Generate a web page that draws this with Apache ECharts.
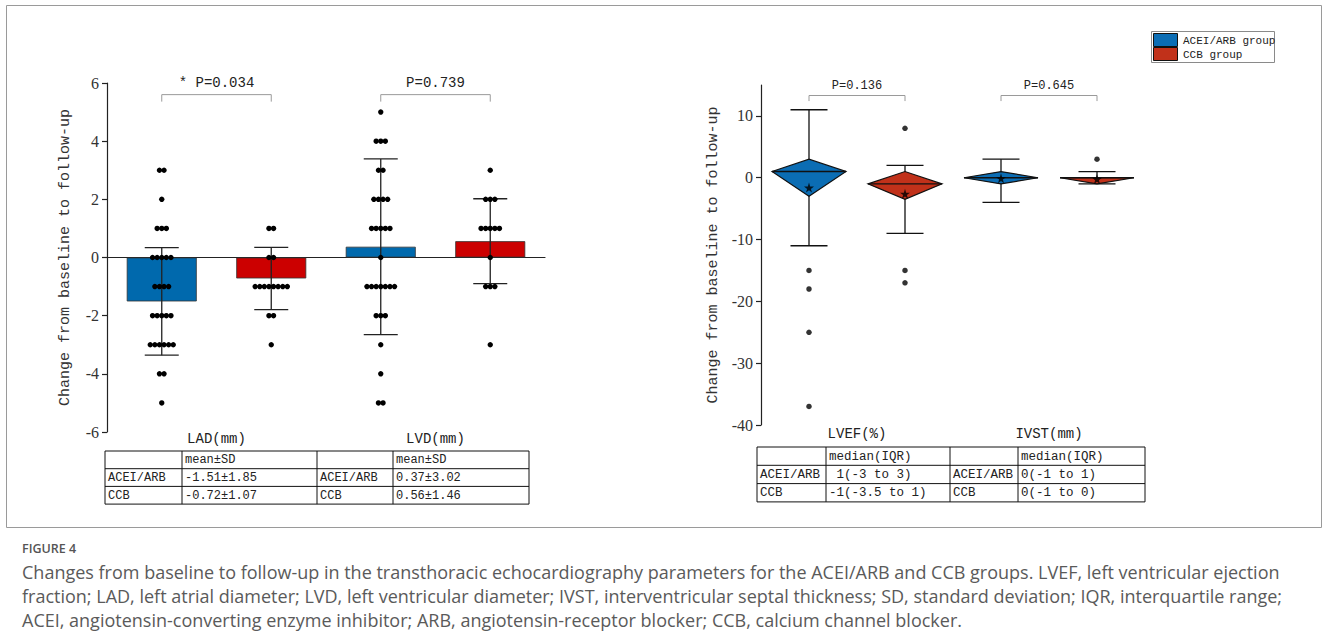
<!DOCTYPE html>
<html><head><meta charset="utf-8">
<script src="https://cdn.jsdelivr.net/npm/echarts@6/dist/echarts.min.js"></script>
<style>html,body{margin:0;padding:0;background:#fff}#c{width:1328px;height:641px}</style>
</head><body><div id="c"></div>
<script>
// ---------- data ----------
const barCategories = ['LAD ACEI/ARB', 'LAD CCB', 'LVD ACEI/ARB', 'LVD CCB'];
const barGroupLabels = ['LAD(mm)', 'LVD(mm)'];
const barMeans = [-1.51, -0.72, 0.37, 0.56];
const barSDs = [1.85, 1.07, 3.02, 1.46];
const ladAceiDots = [3, 3, 2, 1, 1, 1, 0, 0, 0, 0, 0, -1, -1, -1, -1, -2, -2, -2, -2, -2, -3, -3, -3, -3, -3, -3, -4, -4, -5];
const ladCcbDots = [1, 1, 0, 0, -1, -1, -1, -1, -1, -1, -1, -1, -2, -2, -3];
const lvdAceiDots = [5, 4, 4, 4, 3, 3, 2, 2, 2, 2, 1, 1, 1, 1, 1, 0, -1, -1, -1, -1, -1, -1, -1, -2, -2, -2, -3, -4, -5, -5];
const lvdCcbDots = [3, 2, 2, 2, 1, 1, 1, 1, 1, 0, -1, -1, -1, -3];
const leftPairs = [[0, 1], [2, 3]];
const leftPvals = ['* P=0.034', 'P=0.739'];

const boxCategories = ['LVEF ACEI/ARB', 'LVEF CCB', 'IVST ACEI/ARB', 'IVST CCB'];
const boxGroupLabels = ['LVEF(%)', 'IVST(mm)'];
// [min whisker, Q1, median, Q3, max whisker]
const boxStats = [
  [-11, -3, 1, 3, 11],
  [-9, -3.5, -1, 1, 2],
  [-4, -1, 0, 1, 3],
  [-1, -1, 0, 0, 1]
];
const boxMeans = [-1.6, -2.6, -0.1, -0.2];
const boxOutliers = [[-15, -18, -25, -37], [8, -15, -17], [], [3]];
const rightTicks = [-40, -30, -20, -10, 0, 10];
const rightPairs = [[0, 1], [2, 3]];
const rightPvals = ['P=0.136', 'P=0.645'];

const legendNames = ['ACEI/ARB group', 'CCB group'];
const leftTableRows = [
  ['', 'mean±SD', '', 'mean±SD'],
  ['ACEI/ARB', '-1.51±1.85', 'ACEI/ARB', '0.37±3.02'],
  ['CCB', '-0.72±1.07', 'CCB', '0.56±1.46']
];
const rightTableRows = [
  ['', 'median(IQR)', '', 'median(IQR)'],
  ['ACEI/ARB', ' 1(-3 to 3)', 'ACEI/ARB', '0(-1 to 1)'],
  ['CCB', '-1(-3.5 to 1)', 'CCB', '0(-1 to 0)']
];
const yTitle = 'Change from baseline to follow-up';
const figLabel = 'FIGURE 4';
const captionLines = [
  'Changes from baseline to follow-up in the transthoracic echocardiography parameters for the ACEI/ARB and CCB groups. LVEF, left ventricular ejection',
  'fraction; LAD, left atrial diameter; LVD, left ventricular diameter; IVST, interventricular septal thickness; SD, standard deviation; IQR, interquartile range;',
  'ACEI, angiotensin-converting enzyme inhibitor; ARB, angiotensin-receptor blocker; CCB, calcium channel blocker.'
];

// ---------- styles ----------
const BLUE_BAR = '#0069ad', RED_BAR = '#cc0000';
const BLUE_D = '#0b6db4', RED_D = '#c1311a';
const MONO = "'Liberation Mono', 'DejaVu Sans Mono', monospace";
const SERIF = "'Liberation Serif', 'DejaVu Serif', serif";
const SANS = "'Open Sans', 'Noto Sans', sans-serif";
const INK = '#222';

function swarm(vals, spacing) {
  const counts = {}, seen = {};
  vals.forEach(v => counts[v] = (counts[v] || 0) + 1);
  return vals.map(v => {
    const k = seen[v] || 0; seen[v] = k + 1;
    return (k - (counts[v] - 1) / 2) * spacing;
  });
}
const dotGroups = [ladAceiDots, ladCcbDots, lvdAceiDots, lvdCcbDots];
const dotData = [];
dotGroups.forEach((g, i) => {
  const offs = swarm(g, 4.6);
  g.forEach((v, j) => dotData.push([i, v, offs[j]]));
});
const errData = barMeans.map((m, i) => [i, +(m - barSDs[i]).toFixed(2), +(m + barSDs[i]).toFixed(2)]);
const outlierData = [];
boxOutliers.forEach((arr, i) => arr.forEach(v => outlierData.push([i, v])));

function bracketItem(api, params, labels, yTop, yLeg, yText, fontSize) {
  const a = api.value(0), b = api.value(1);
  const p0 = api.coord([a, yTop]), p1 = api.coord([b, yTop]);
  const l0 = api.coord([a, yLeg]);
  const t = api.coord([(a + b) / 2, yText]);
  return {
    type: 'group', children: [
      { type: 'polyline', shape: { points: [[p0[0], l0[1]], [p0[0], p0[1]], [p1[0], p1[1]], [p1[0], l0[1]]] },
        style: { stroke: '#9a9a9a', lineWidth: 1, fill: null } },
      { type: 'text', style: { text: labels[params.dataIndex], x: (p0[0] + p1[0]) / 2, y: t[1], align: 'center', verticalAlign: 'middle',
        fontFamily: MONO, fontSize: fontSize, fill: INK } }
    ]
  };
}

const starPath = 'path://M50,0 L61,35 L98,35 L68,57 L79,91 L50,70 L21,91 L32,57 L2,35 L39,35 Z';

// ---------- graphic (tables, legend, caption, frame) ----------
function table(x0, y0, colEdges, rowH, rows, fontSize) {
  const els = [];
  const x1 = colEdges[colEdges.length - 1];
  const h = rowH * rows.length;
  els.push({ type: 'rect', shape: { x: x0, y: y0, width: x1 - x0, height: h }, style: { fill: '#fff', stroke: '#111', lineWidth: 1 } });
  for (let r = 1; r < rows.length; r++) {
    els.push({ type: 'line', shape: { x1: x0, y1: y0 + r * rowH, x2: x1, y2: y0 + r * rowH }, style: { stroke: '#111', lineWidth: 1 } });
  }
  const edges = [x0].concat(colEdges);
  for (let c = 1; c < edges.length - 1; c++) {
    els.push({ type: 'line', shape: { x1: edges[c], y1: y0, x2: edges[c], y2: y0 + h }, style: { stroke: '#111', lineWidth: 1 } });
  }
  rows.forEach((row, r) => row.forEach((txt, c) => {
    if (!txt) return;
    els.push({ type: 'text', style: { text: txt, x: edges[c] + 3, y: y0 + r * rowH + rowH / 2 + 0.5, verticalAlign: 'middle',
      fontFamily: MONO, fontSize: fontSize, fill: INK } });
  }));
  return els;
}

const mctx = document.createElement('canvas').getContext('2d');
mctx.font = "16px 'Open Sans'";
const capW = mctx.measureText(captionLines[0]).width;
const capSize = Math.min(18, 16 * 1284 / capW);

const graphics = [].concat(
  [{ type: 'rect', shape: { x: 6.5, y: 5.5, width: 1315, height: 522 }, style: { fill: null, stroke: '#9a9a9a', lineWidth: 1 }, z: -10 }],
  table(105, 451, [182, 317, 393, 529], 17.7, leftTableRows, 12),
  table(757, 447, [826, 950, 1018, 1145], 18.3, rightTableRows, 12.5),
  [
    { type: 'rect', shape: { x: 1151.5, y: 31.5, width: 123, height: 31 }, style: { fill: '#fff', stroke: '#8a8a8a', lineWidth: 1 } },
    { type: 'rect', shape: { x: 1153.5, y: 33.5, width: 24, height: 13 }, style: { fill: BLUE_D, stroke: '#111', lineWidth: 1 } },
    { type: 'rect', shape: { x: 1153.5, y: 47.5, width: 24, height: 13 }, style: { fill: RED_D, stroke: '#111', lineWidth: 1 } },
    { type: 'text', style: { text: legendNames[0], x: 1183, y: 41, verticalAlign: 'middle', fontFamily: MONO, fontSize: 11, fill: INK } },
    { type: 'text', style: { text: legendNames[1], x: 1183, y: 55, verticalAlign: 'middle', fontFamily: MONO, fontSize: 11, fill: INK } },
    { type: 'text', style: { text: figLabel, x: 22, y: 548, verticalAlign: 'middle', fontFamily: SANS, fontWeight: 600, fontSize: 12.5, fill: '#555' } }
  ],
  captionLines.map((t, i) => ({ type: 'text', style: { text: t, x: 22, y: 572 + i * 24, verticalAlign: 'middle',
    fontFamily: SANS, fontSize: capSize, fill: '#5a5a5a' } }))
);

// ---------- chart ----------
const chart = echarts.init(document.getElementById('c'), null, { renderer: 'svg' });
const yAxisCommon = {
  type: 'value',
  axisLine: { show: true, lineStyle: { color: INK, width: 1.2 } },
  axisTick: { show: true, length: 5, lineStyle: { color: INK, width: 1.2 } },
  axisLabel: { fontFamily: SERIF, fontSize: 16, color: '#333', margin: 8 },
  splitLine: { show: false },
  nameLocation: 'middle',
  nameTextStyle: { fontFamily: MONO, fontSize: 15, color: '#333' },
  name: yTitle
};
chart.setOption({
  animation: false,
  backgroundColor: '#fff',
  grid: [
    { left: 107, top: 83, width: 438, height: 349 },
    { left: 761, top: 85, width: 384, height: 340 }
  ],
  xAxis: [
    { type: 'category', gridIndex: 0, data: barCategories, axisLine: { show: true, onZero: true, lineStyle: { color: INK, width: 1.2 } },
      axisTick: { show: false }, axisLabel: { show: false } },
    { type: 'category', gridIndex: 0, data: barGroupLabels, position: 'bottom', axisLine: { show: false, onZero: false },
      axisTick: { show: false }, axisLabel: { fontFamily: MONO, fontSize: 14, color: INK, margin: 0 } },
    { type: 'category', gridIndex: 1, data: boxCategories, axisLine: { show: false }, axisTick: { show: false }, axisLabel: { show: false } },
    { type: 'category', gridIndex: 1, data: boxGroupLabels, position: 'bottom', axisLine: { show: false, onZero: false },
      axisTick: { show: false }, axisLabel: { fontFamily: MONO, fontSize: 14, color: INK, margin: 2 } }
  ],
  yAxis: [
    Object.assign({}, yAxisCommon, { gridIndex: 0, min: -6, max: 6, interval: 2, nameGap: 34 }),
    Object.assign({}, yAxisCommon, { gridIndex: 1, min: -40, max: 15, interval: 10, nameGap: 40,
      axisLabel: Object.assign({}, yAxisCommon.axisLabel, { customValues: rightTicks }),
      axisTick: Object.assign({}, yAxisCommon.axisTick, { customValues: rightTicks }) })
  ],
  graphic: graphics,
  series: [
    { type: 'bar', xAxisIndex: 0, yAxisIndex: 0, barWidth: 70, z: 1,
      data: barMeans.map((v, i) => ({ value: v, itemStyle: { color: i % 2 ? RED_BAR : BLUE_BAR } })),
      itemStyle: { borderColor: '#333', borderWidth: 0.8 } },
    { type: 'custom', xAxisIndex: 0, yAxisIndex: 0, z: 3, data: errData, encode: { x: 0, y: [1, 2] },
      renderItem: (params, api) => {
        const i = api.value(0), lo = api.coord([i, api.value(1)]), hi = api.coord([i, api.value(2)]), w = 17;
        const st = { stroke: INK, lineWidth: 1.3 };
        return { type: 'group', children: [
          { type: 'line', shape: { x1: lo[0], y1: lo[1], x2: hi[0], y2: hi[1] }, style: st },
          { type: 'line', shape: { x1: lo[0] - w, y1: lo[1], x2: lo[0] + w, y2: lo[1] }, style: st },
          { type: 'line', shape: { x1: hi[0] - w, y1: hi[1], x2: hi[0] + w, y2: hi[1] }, style: st }
        ] };
      } },
    { type: 'custom', xAxisIndex: 0, yAxisIndex: 0, z: 4, data: dotData, encode: { x: 0, y: 1 },
      renderItem: (params, api) => {
        const p = api.coord([api.value(0), api.value(1)]);
        return { type: 'circle', shape: { cx: p[0] + api.value(2), cy: p[1], r: 2.7 }, style: { fill: '#000' } };
      } },
    { type: 'custom', xAxisIndex: 0, yAxisIndex: 0, z: 4, data: leftPairs, encode: { x: [0, 1] }, clip: false,
      renderItem: (params, api) => bracketItem(api, params, leftPvals, 5.6, 5.36, 6.0, 14) },
    // right chart
    { type: 'custom', xAxisIndex: 2, yAxisIndex: 1, z: 3, data: boxStats.map((s, i) => [i].concat(s)), encode: { x: 0, y: [1, 5] },
      renderItem: (params, api) => {
        const i = api.value(0);
        const c = v => api.coord([i, v]);
        const mn = c(api.value(1)), q1 = c(api.value(2)), md = c(api.value(3)), q3 = c(api.value(4)), mx = c(api.value(5));
        const x = md[0], hw = 37, cw = 18.5;
        const st = { stroke: '#111', lineWidth: 1.3 };
        return { type: 'group', children: [
          { type: 'line', shape: { x1: x, y1: mn[1], x2: x, y2: mx[1] }, style: st },
          { type: 'line', shape: { x1: x - cw, y1: mn[1], x2: x + cw, y2: mn[1] }, style: st },
          { type: 'line', shape: { x1: x - cw, y1: mx[1], x2: x + cw, y2: mx[1] }, style: st },
          { type: 'polygon', shape: { points: [[x - hw, md[1]], [x, q3[1]], [x + hw, md[1]], [x, q1[1]]] },
            style: { fill: i % 2 ? RED_D : BLUE_D, stroke: '#111', lineWidth: 1.2 } },
          { type: 'line', shape: { x1: x - hw, y1: md[1], x2: x + hw, y2: md[1] }, style: { stroke: '#111', lineWidth: 1.4 } }
        ] };
      } },
    { type: 'scatter', xAxisIndex: 2, yAxisIndex: 1, z: 6, symbol: starPath, symbolSize: 10,
      data: boxMeans.map((m, i) => [i, m]), itemStyle: { color: '#000' } },
    { type: 'scatter', xAxisIndex: 2, yAxisIndex: 1, z: 6, symbolSize: 5.5,
      data: outlierData, itemStyle: { color: '#000' } },
    { type: 'custom', xAxisIndex: 2, yAxisIndex: 1, z: 4, data: rightPairs, encode: { x: [0, 1] }, clip: false,
      renderItem: (params, api) => bracketItem(api, params, rightPvals, 13.3, 12.4, 14.8, 12) }
  ]
});
</script>
</body></html>
